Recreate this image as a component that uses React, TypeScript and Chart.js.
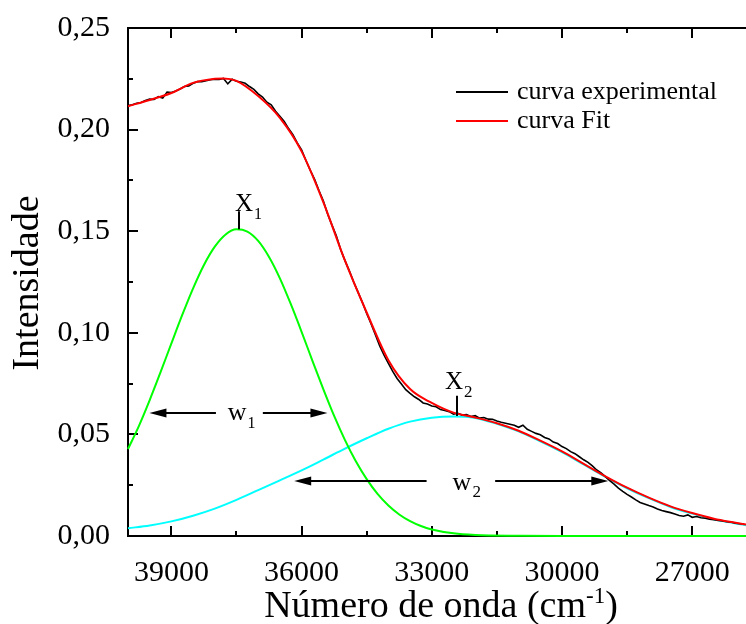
import React, { useEffect, useRef } from "react";
import { Chart, registerables } from "chart.js";

Chart.register(...registerables);

const SERIF = "'Liberation Serif', 'Times New Roman', Times, serif";

// Axis ranges and ticks (wavenumber axis runs from high to low)
const X_MIN = 25760;
const X_MAX = 40000;
const X_TICKS = [39000, 36000, 33000, 30000, 27000];
const X_MINOR = [37500, 34500, 31500, 28500];
const Y_MIN = 0;
const Y_MAX = 0.25;
const Y_TICKS = [0, 0.05, 0.1, 0.15, 0.2, 0.25];
const Y_MINOR = [0.025, 0.075, 0.125, 0.175, 0.225];

const X_TITLE = "Número de onda (cm";
const X_TITLE_SUP = "-1";
const X_TITLE_END = ")";
const Y_TITLE = "Intensidade";

const EXP_LABEL = "curva experimental";
const FIT_LABEL = "curva Fit";

// Experimental spectrum [wavenumber, intensity]
const EXPERIMENTAL: [number, number][] = [
  [40000, 0.2118], [39900, 0.2122], [39800, 0.213], [39700, 0.2133], [39600, 0.2143],
  [39500, 0.215], [39400, 0.2148], [39300, 0.2162], [39200, 0.2155], [39100, 0.2185],
  [39000, 0.2182], [38900, 0.219], [38800, 0.22], [38700, 0.2212], [38600, 0.2215],
  [38500, 0.2228], [38400, 0.2236], [38300, 0.2236], [38200, 0.224], [38100, 0.2245],
  [38000, 0.2248], [37900, 0.2247], [37800, 0.2252], [37700, 0.2225], [37600, 0.2248],
  [37500, 0.2238], [37400, 0.2234], [37300, 0.2228], [37200, 0.2212], [37100, 0.2198],
  [37000, 0.2176], [36900, 0.216], [36800, 0.2135], [36700, 0.2122], [36600, 0.209],
  [36500, 0.2065], [36400, 0.204], [36300, 0.2005], [36200, 0.1975], [36100, 0.1935],
  [36000, 0.19], [35900, 0.1848], [35800, 0.18], [35700, 0.1755], [35600, 0.17],
  [35500, 0.165], [35400, 0.1585], [35300, 0.153], [35200, 0.1478], [35100, 0.141],
  [35000, 0.1355], [34900, 0.1305], [34800, 0.125], [34700, 0.12], [34600, 0.115],
  [34500, 0.1095], [34400, 0.1045], [34300, 0.099], [34200, 0.0935], [34100, 0.089],
  [34000, 0.085], [33900, 0.081], [33800, 0.0775], [33700, 0.0748], [33600, 0.072],
  [33500, 0.0702], [33400, 0.0685], [33300, 0.0672], [33200, 0.0655], [33100, 0.065],
  [33000, 0.064], [32900, 0.0636], [32800, 0.0622], [32700, 0.0618], [32600, 0.0612],
  [32500, 0.06], [32400, 0.0604], [32300, 0.0595], [32200, 0.0598], [32100, 0.0588],
  [32000, 0.0592], [31900, 0.058], [31800, 0.0583], [31700, 0.0575], [31600, 0.0574],
  [31500, 0.0566], [31400, 0.056], [31300, 0.0555], [31200, 0.055], [31100, 0.0545],
  [31000, 0.0535], [30900, 0.0545], [30800, 0.0525], [30700, 0.0515], [30600, 0.0505],
  [30500, 0.0498], [30400, 0.0485], [30300, 0.0478], [30200, 0.0462], [30100, 0.0455],
  [30000, 0.044], [29900, 0.043], [29800, 0.0415], [29700, 0.0405], [29600, 0.039],
  [29500, 0.0375], [29400, 0.0362], [29300, 0.0345], [29200, 0.0325], [29100, 0.031],
  [29000, 0.0292], [28900, 0.0272], [28800, 0.0255], [28700, 0.0236], [28600, 0.022],
  [28500, 0.0205], [28400, 0.0192], [28300, 0.0178], [28200, 0.0165], [28100, 0.0158],
  [28000, 0.015], [27900, 0.0143], [27800, 0.0133], [27700, 0.0125], [27600, 0.012],
  [27500, 0.0115], [27400, 0.0108], [27300, 0.0101], [27200, 0.0097], [27100, 0.0104],
  [27000, 0.0092], [26900, 0.0096], [26800, 0.009], [26700, 0.0087], [26600, 0.0083],
  [26500, 0.008], [26400, 0.0077], [26300, 0.0074], [26200, 0.007], [26100, 0.0068],
  [26000, 0.0063], [25900, 0.006], [25800, 0.0058],
];

// Fitted curve
const FIT: [number, number][] = [
  [40000, 0.2115], [39500, 0.2146], [39000, 0.218], [38500, 0.223], [38000, 0.225],
  [37800, 0.2252], [37500, 0.224], [37000, 0.2165], [36500, 0.2058], [36000, 0.1893],
  [35500, 0.1643], [35000, 0.1355], [34500, 0.11], [34000, 0.0865], [33500, 0.0723],
  [33000, 0.0655], [32500, 0.0607], [32000, 0.0583], [31500, 0.0555], [31000, 0.0518],
  [30500, 0.0469], [30000, 0.0416], [29500, 0.0355], [29000, 0.0294], [28500, 0.0238],
  [28000, 0.0189], [27500, 0.0146], [27000, 0.0113], [26500, 0.0085], [26000, 0.0065],
  [25760, 0.0056],
];

// Component band 1 (green)
const BAND1: [number, number][] = [
  [40000, 0.0428], [39750, 0.0541], [39500, 0.0669], [39250, 0.0806], [39000, 0.0948],
  [38750, 0.1088], [38500, 0.1219], [38250, 0.1334], [38000, 0.1424], [37750, 0.1484],
  [37500, 0.1509], [37250, 0.1498], [37000, 0.1452], [36750, 0.1373], [36500, 0.1268],
  [36250, 0.1142], [36000, 0.1005], [35750, 0.0862], [35500, 0.0723], [35250, 0.0591],
  [35000, 0.0472], [34750, 0.0368], [34500, 0.028], [34250, 0.0207], [34000, 0.015],
  [33750, 0.0106], [33500, 0.0073], [33250, 0.0049], [33000, 0.0032], [32500, 0.0013],
  [32000, 0.0005], [31000, 0.0001], [30000, 0], [28000, 0], [26000, 0], [25760, 0],
];

// Component band 2 (cyan)
const BAND2: [number, number][] = [
  [40000, 0.0038], [39500, 0.0052], [39000, 0.0072], [38500, 0.01], [38000, 0.0135],
  [37500, 0.0178], [37000, 0.0226], [36500, 0.0274], [36000, 0.0323], [35500, 0.0376],
  [35000, 0.043], [34500, 0.0481], [34000, 0.0528], [33500, 0.0563], [33000, 0.0582],
  [32500, 0.0588], [32000, 0.0581], [31500, 0.0552], [31000, 0.0515], [30500, 0.0466],
  [30000, 0.0413], [29500, 0.0352], [29000, 0.0291], [28500, 0.0235], [28000, 0.0186],
  [27500, 0.0143], [27000, 0.011], [26500, 0.0082], [26000, 0.0062], [25760, 0.0053],
];

// Annotations: peak centres and widths
const X1_LABEL = "X";
const X1_SUB = "1";
const X1_POS = 37450;
const X1_PEAK = 0.151;
const X1_TOP = 0.1598;
const X1_TEXT_X = 37535;

const X2_LABEL = "X";
const X2_SUB = "2";
const X2_POS = 32420;
const X2_PEAK = 0.0591;
const X2_TOP = 0.069;
const X2_TEXT_X = 32696;
const X2_TEXT_Y = 0.0723;

const W_LABEL = "w";
const W1_SUB = "1";
const W1_LEFT: [number, number] = [37974, 39506];
const W1_RIGHT: [number, number] = [36893, 35404];
const W1_Y = 0.0604;
const W1_TEXT_X = 37700;
const W1_TEXT_Y = 0.0571;

const W2_SUB = "2";
const W2_LEFT: [number, number] = [33120, 36170];
const W2_RIGHT: [number, number] = [31540, 28933];
const W2_Y = 0.0271;
const W2_TEXT_X = 32520;
const W2_TEXT_Y = 0.0227;

const toXY = (arr: [number, number][]) => arr.map(([x, y]) => ({ x, y }));

function drawArrow(ctx: CanvasRenderingContext2D, x0: number, x1: number, y: number) {
  const dir = Math.sign(x1 - x0);
  ctx.beginPath();
  ctx.moveTo(x0, y);
  ctx.lineTo(x1 - dir * 12, y);
  ctx.stroke();
  ctx.beginPath();
  ctx.moveTo(x1, y);
  ctx.lineTo(x1 - dir * 17, y - 4.5);
  ctx.lineTo(x1 - dir * 17, y + 4.5);
  ctx.closePath();
  ctx.fill();
}

function drawSub(
  ctx: CanvasRenderingContext2D,
  main: string,
  sub: string,
  x: number,
  y: number,
  size: number,
  subSize: number,
  subDy: number,
  gap: number
) {
  ctx.textAlign = "left";
  ctx.textBaseline = "alphabetic";
  ctx.font = `${size}px ${SERIF}`;
  ctx.fillText(main, x, y);
  const w = ctx.measureText(main).width;
  ctx.font = `${subSize}px ${SERIF}`;
  ctx.fillText(sub, x + w + gap, y + subDy);
}

const decor = {
  id: "decor",
  beforeDatasetsDraw(chart: any) {
    const { ctx, chartArea: a, scales } = chart;
    const xs = scales.x;
    const ys = scales.y;
    const L = Math.round(a.left);
    const T = Math.round(a.top);
    const B = Math.round(a.bottom);
    const R = Math.round(a.right);
    ctx.save();
    ctx.strokeStyle = "#000";
    ctx.lineWidth = 2;
    ctx.lineCap = "butt";
    ctx.beginPath();
    ctx.moveTo(L, T);
    ctx.lineTo(R, T);
    ctx.moveTo(L, T - 1);
    ctx.lineTo(L, B + 1);
    ctx.moveTo(L - 1, B);
    ctx.lineTo(R, B);
    ctx.stroke();
    ctx.beginPath();
    const tick = (v: number, len: number) => {
      const px = Math.round(xs.getPixelForValue(v));
      ctx.moveTo(px, B);
      ctx.lineTo(px, B - len);
      ctx.moveTo(px, T);
      ctx.lineTo(px, T + len);
    };
    X_TICKS.forEach((v) => tick(v, 10));
    X_MINOR.forEach((v) => tick(v, 5));
    const ytick = (v: number, len: number) => {
      const py = Math.round(ys.getPixelForValue(v));
      ctx.moveTo(L, py);
      ctx.lineTo(L + len, py);
    };
    Y_TICKS.forEach((v) => ytick(v, 10));
    Y_MINOR.forEach((v) => ytick(v, 5));
    ctx.stroke();
    ctx.restore();
  },
  afterDatasetsDraw(chart: any) {
    const { ctx, chartArea: a, scales } = chart;
    const xs = scales.x;
    const ys = scales.y;
    const X = (v: number) => xs.getPixelForValue(v);
    const Y = (v: number) => ys.getPixelForValue(v);
    ctx.save();
    ctx.fillStyle = "#000";
    ctx.strokeStyle = "#000";
    ctx.lineWidth = 2;

    // peak markers
    ctx.beginPath();
    ctx.moveTo(Math.round(X(X1_POS)), Y(X1_PEAK));
    ctx.lineTo(Math.round(X(X1_POS)), Y(X1_TOP));
    ctx.moveTo(Math.round(X(X2_POS)), Y(X2_PEAK));
    ctx.lineTo(Math.round(X(X2_POS)), Y(X2_TOP));
    ctx.stroke();
    drawSub(ctx, X1_LABEL, X1_SUB, X(X1_TEXT_X), Y(X1_TOP), 25, 16, 8, 1);
    drawSub(ctx, X2_LABEL, X2_SUB, X(X2_TEXT_X), Y(X2_TEXT_Y), 25, 17, 8, 1);

    // width arrows
    drawArrow(ctx, X(W1_LEFT[0]), X(W1_LEFT[1]), Math.round(Y(W1_Y)));
    drawArrow(ctx, X(W1_RIGHT[0]), X(W1_RIGHT[1]), Math.round(Y(W1_Y)));
    drawArrow(ctx, X(W2_LEFT[0]), X(W2_LEFT[1]), Math.round(Y(W2_Y)));
    drawArrow(ctx, X(W2_RIGHT[0]), X(W2_RIGHT[1]), Math.round(Y(W2_Y)));
    drawSub(ctx, W_LABEL, W1_SUB, X(W1_TEXT_X), Y(W1_TEXT_Y), 26, 16, 8, 1);
    drawSub(ctx, W_LABEL, W2_SUB, X(W2_TEXT_X), Y(W2_TEXT_Y), 26, 17, 7, 1);

    // legend
    const ds = chart.data.datasets;
    const legendItems = [ds[1], ds[0]];
    legendItems.forEach((d: any, i: number) => {
      const rowY = 92 + i * 29;
      ctx.strokeStyle = d.borderColor;
      ctx.lineWidth = 2;
      ctx.beginPath();
      ctx.moveTo(456, rowY);
      ctx.lineTo(508, rowY);
      ctx.stroke();
      ctx.fillStyle = "#000";
      ctx.font = `26px ${SERIF}`;
      ctx.textAlign = "left";
      ctx.textBaseline = "alphabetic";
      ctx.fillText(d.label, 517, rowY + 7);
    });

    // axis titles
    ctx.fillStyle = "#000";
    ctx.textBaseline = "alphabetic";
    ctx.textAlign = "left";
    const big = 38;
    const supSize = 23;
    ctx.font = `${big}px ${SERIF}`;
    const w1 = ctx.measureText(X_TITLE).width;
    const w3 = ctx.measureText(X_TITLE_END).width;
    ctx.font = `${supSize}px ${SERIF}`;
    const w2 = ctx.measureText(X_TITLE_SUP).width;
    const total = w1 + w2 + w3;
    const cx = (a.left + a.right) / 2 + 4;
    let sx = cx - total / 2;
    const base = 617;
    ctx.font = `${big}px ${SERIF}`;
    ctx.fillText(X_TITLE, sx, base);
    sx += w1;
    ctx.font = `${supSize}px ${SERIF}`;
    ctx.fillText(X_TITLE_SUP, sx, base - 14);
    sx += w2;
    ctx.font = `${big}px ${SERIF}`;
    ctx.fillText(X_TITLE_END, sx, base);

    ctx.save();
    ctx.translate(38, (a.top + a.bottom) / 2 + 1);
    ctx.rotate(-Math.PI / 2);
    ctx.textAlign = "center";
    ctx.font = `${big}px ${SERIF}`;
    ctx.fillText(Y_TITLE, 0, 0);
    ctx.restore();

    ctx.restore();
  },
};

export default function App() {
  const ref = useRef<HTMLCanvasElement>(null);
  useEffect(() => {
    const canvas = ref.current;
    if (!canvas) return;
    const chart = new Chart(canvas, {
      type: "line",
      data: {
        datasets: [
          {
            label: FIT_LABEL,
            data: toXY(FIT),
            borderColor: "#FF0000",
            borderWidth: 2,
            pointRadius: 0,
            cubicInterpolationMode: "monotone",
            fill: false,
            order: 0,
            clip: false,
          } as any,
          {
            label: EXP_LABEL,
            data: toXY(EXPERIMENTAL),
            borderColor: "#000000",
            borderWidth: 1.6,
            pointRadius: 0,
            tension: 0,
            fill: false,
            order: 1,
            clip: false,
          } as any,
          {
            label: "Banda 1",
            data: toXY(BAND1),
            borderColor: "#00FF00",
            borderWidth: 2,
            pointRadius: 0,
            cubicInterpolationMode: "monotone",
            fill: false,
            order: 2,
            clip: false,
          } as any,
          {
            label: "Banda 2",
            data: toXY(BAND2),
            borderColor: "#00FFFF",
            borderWidth: 2,
            pointRadius: 0,
            cubicInterpolationMode: "monotone",
            fill: false,
            order: 3,
            clip: false,
          } as any,
        ],
      },
      options: {
        animation: false,
        responsive: false,
        maintainAspectRatio: false,
        devicePixelRatio: 1,
        layout: { padding: { top: 28, right: 0, left: 0, bottom: 0 } },
        plugins: { legend: { display: false }, tooltip: { enabled: false } },
        elements: { point: { radius: 0 } },
        scales: {
          x: {
            type: "linear",
            position: "bottom",
            reverse: true,
            min: X_MIN,
            max: X_MAX,
            grid: { display: false },
            border: { display: false },
            ticks: {
              font: { family: SERIF, size: 30 },
              color: "#000",
              padding: 11,
              maxRotation: 0,
              autoSkip: false,
              callback: (v: any) => String(v),
            },
            afterBuildTicks: (s: any) => {
              s.ticks = X_TICKS.map((v) => ({ value: v }));
            },
            afterFit: (s: any) => {
              s.height = 88;
            },
          },
          y: {
            type: "linear",
            min: Y_MIN,
            max: Y_MAX,
            grid: { display: false },
            border: { display: false },
            ticks: {
              font: { family: SERIF, size: 30 },
              color: "#000",
              padding: 10,
              autoSkip: false,
              callback: (v: any) => Number(v).toFixed(2).replace(".", ","),
            },
            afterBuildTicks: (s: any) => {
              s.ticks = Y_TICKS.map((v) => ({ value: v }));
            },
            afterFit: (s: any) => {
              s.width = 128;
            },
          },
        },
      },
      plugins: [decor],
    });
    return () => chart.destroy();
  }, []);
  return (
    <div style={{ position: "fixed", left: 0, top: 0, width: 746, height: 624, background: "#fff" }}>
      <canvas ref={ref} width={746} height={624} style={{ display: "block", width: 746, height: 624 }} />
    </div>
  );
}
